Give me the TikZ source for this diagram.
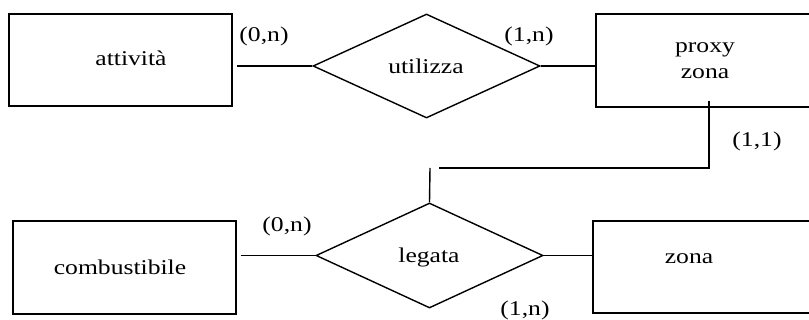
\documentclass[tikz,border=0pt]{standalone}
\usepackage{fontspec}
\setmainfont{Liberation Serif}
\usetikzlibrary{shapes.geometric}
\newcommand{\wide}[1]{\scalebox{1.22}[1]{#1}}
\begin{document}
\begin{tikzpicture}[x=1pt,y=-1pt,
  ent/.style={draw, line width=1.4pt, rectangle, inner sep=0pt},
  rel/.style={draw, line width=1.4pt, diamond, inner sep=0pt},
  txt/.style={anchor=base, inner sep=0pt, font=\fontsize{21}{26}\selectfont},
  lnk/.style={line width=1.4pt}]
\useasboundingbox (0,0) rectangle (809,320);
% entities
\node[ent, minimum width=223pt, minimum height=92pt] (att) at (120.5,60) {};
\node[txt] (attT) at (131,66) {\wide{attività}};
\node[ent, minimum width=234pt, minimum height=93pt] (prx) at (713,60.5) {};
\node[txt] (prxT1) at (705,53) {\wide{proxy}};
\node[txt] (prxT2) at (705,79) {\wide{zona}};
\node[ent, minimum width=223pt, minimum height=93pt] (cmb) at (124.5,267.5) {};
\node[txt] (cmbT) at (120,275) {\wide{combustibile}};
\node[ent, minimum width=237pt, minimum height=92pt] (zon) at (711.5,267) {};
\node[txt] (zonT) at (689,264) {\wide{zona}};
% relations
\node[rel, minimum width=227pt, minimum height=104pt] (uti) at (426.5,66) {};
\node[txt] (utiT) at (426,74) {\wide{utilizza}};
\node[rel, minimum width=227pt, minimum height=105pt] (leg) at (429.5,255.5) {};
\node[txt] (legT) at (429,263) {\wide{legata}};
% connectors
\draw[lnk, shorten <=4pt] (att.east |- uti.west) -- (uti.west);
\draw[lnk] (uti.east) -- (uti.east -| prx.west);
\draw[lnk, shorten <=4pt] (cmb.east |- leg.west) -- (leg.west);
\draw[lnk] (leg.east) -- (leg.east -| zon.west);
\coordinate (c1) at (709,101);
\coordinate (c2) at (709,168);
\coordinate (c3) at (439,168);
\coordinate (c4) at (430,168);
\draw[lnk] (c1) -- (c2) -- (c3);
\draw[lnk] (c4) -- (leg.north);
% cardinalities
\node[txt] (k1) at (264,42) {\wide{(0,n)}};
\node[txt] (k2) at (529,42) {\wide{(1,n)}};
\node[txt] (k3) at (757,147) {\wide{(1,1)}};
\node[txt] (k4) at (287,232) {\wide{(0,n)}};
\node[txt] (k5) at (525,316) {\wide{(1,n)}};
\end{tikzpicture}
\end{document}
